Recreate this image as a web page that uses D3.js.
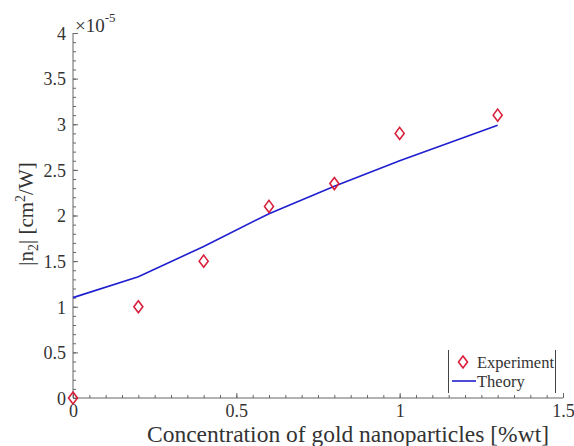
<!DOCTYPE html>
<html><head><meta charset="utf-8">
<script src="https://cdn.jsdelivr.net/npm/d3@7"></script>
<style>body{margin:0;background:#fff}svg text{font-family:'Liberation Serif','Tinos','Times New Roman','Noto Serif','DejaVu Serif',serif !important}</style>
</head><body>
<svg id="c" width="574" height="446"></svg>
<script>
const concentration = [0, 0.2, 0.4, 0.6, 0.8, 1.0, 1.3];
const experiment = [0, 1.0, 1.5, 2.1, 2.35, 2.9, 3.1];
const theory = [1.1, 1.33, 1.66, 2.02, 2.32, 2.6, 2.99];
const xTicks = [0, 0.5, 1, 1.5];
const yTicks = [0, 0.5, 1, 1.5, 2, 2.5, 3, 3.5, 4];

const svg = d3.select("#c");
const m = {l:73, r:563, t:33, b:398};
const x = d3.scaleLinear().domain([0,1.5]).range([m.l, m.r]);
const y = d3.scaleLinear().domain([0,4]).range([m.b, m.t]);
const axisCol = "#666", textCol = "#333";

// x axis
const xa = svg.append("g").attr("transform",`translate(0,${m.b})`)
  .call(d3.axisBottom(x).tickValues(xTicks).tickSize(-5).tickFormat(d3.format("")));
const xm = svg.append("g").attr("transform",`translate(0,${m.b})`)
  .call(d3.axisBottom(x).tickValues(d3.range(0,1.5001,0.05)).tickSize(-3).tickFormat(""));
// y axis
const ya = svg.append("g").attr("transform",`translate(${m.l},0)`)
  .call(d3.axisLeft(y).tickValues(yTicks).tickSize(-5).tickFormat(d3.format("")));
const ym = svg.append("g").attr("transform",`translate(${m.l},0)`)
  .call(d3.axisLeft(y).tickValues(d3.range(0,4.0001,0.1)).tickSize(-3).tickFormat(""));
[xa,xm,ya,ym].forEach(g=>{g.selectAll("path,line").attr("stroke",axisCol).attr("stroke-width",1);});
[xa,ya].forEach(g=>g.selectAll("text").attr("fill",textCol).style("font-size","18px"));
xa.selectAll("text").attr("y",19).attr("dy",0);
ya.selectAll("text").attr("x",-7).attr("dy","0.35em");
xm.select("path").remove(); ym.select("path").remove();
xa.select("path").attr("d",`M${m.l},0H${m.r}`);
ya.select("path").attr("d",`M0,${m.b}V${m.t}`);

// exponent
const ex = svg.append("text").attr("x",75).attr("y",32).attr("fill",textCol).style("font-size","19px");
ex.append("tspan").text("×10");
ex.append("tspan").attr("dy",-10).style("font-size","13px").text("-5");

// axis titles
svg.append("text").attr("x",348).attr("y",442).attr("text-anchor","middle")
  .attr("fill",textCol).style("font-size","23.5px").text("Concentration of gold nanoparticles [%wt]");
const yt = svg.append("text").attr("transform",`translate(33,214) rotate(-90)`)
  .attr("text-anchor","middle").attr("fill",textCol).style("font-size","21px");
yt.append("tspan").text("|n");
yt.append("tspan").attr("dy",5).style("font-size","14px").text("2");
yt.append("tspan").attr("dy",-5).text("| [cm");
yt.append("tspan").attr("dy",-8).style("font-size","14px").text("2");
yt.append("tspan").attr("dy",8).text("/W]");

// theory line
const pts = concentration.map((c,i)=>({c, e:experiment[i], t:theory[i]}));
svg.append("path").datum(pts)
  .attr("d", d3.line().x(d=>x(d.c)).y(d=>y(d.t)))
  .attr("fill","none").attr("stroke","#1f1fd0").attr("stroke-width",1.6);

// experiment diamonds
const diamond = (cx,cy,w,h)=>`M${cx},${cy-h}L${cx+w},${cy}L${cx},${cy+h}L${cx-w},${cy}Z`;
svg.append("g").selectAll("path").data(pts).join("path")
  .attr("d",d=>diamond(x(d.c),y(d.e),4.5,6))
  .attr("fill","none").attr("stroke","#d81e3a").attr("stroke-width",1.6);

// legend
const lg = svg.append("g");
lg.append("line").attr("x1",448.5).attr("x2",448.5).attr("y1",350).attr("y2",393).attr("stroke","#444");
lg.append("line").attr("x1",555.5).attr("x2",555.5).attr("y1",350).attr("y2",393).attr("stroke","#444");
lg.append("path").attr("d",diamond(463,362,4.5,6)).attr("fill","none").attr("stroke","#d81e3a").attr("stroke-width",1.6);
lg.append("text").attr("x",477).attr("y",368).attr("fill",textCol).style("font-size","16.5px").text("Experiment");
lg.append("line").attr("x1",452).attr("x2",476).attr("y1",381).attr("y2",381).attr("stroke","#1f1fd0").attr("stroke-width",1.6);
lg.append("text").attr("x",477).attr("y",387).attr("fill",textCol).style("font-size","16.5px").text("Theory");
</script>
</body></html>
